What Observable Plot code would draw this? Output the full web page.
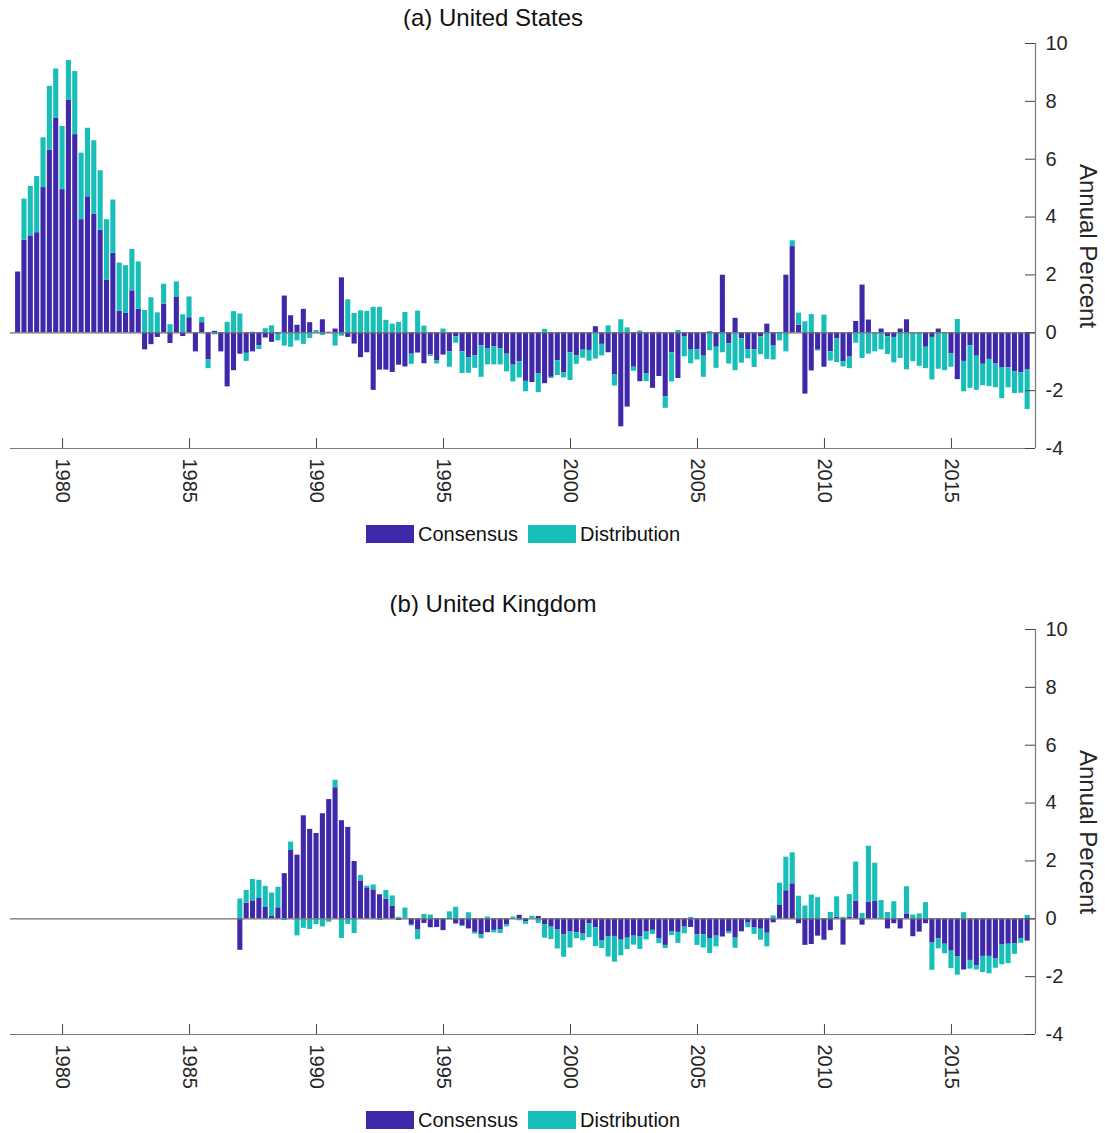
<!DOCTYPE html>
<html>
<head>
<meta charset="utf-8">
<script src="https://cdn.jsdelivr.net/npm/d3@7"></script>
<script src="https://cdn.jsdelivr.net/npm/@observablehq/plot@0.6"></script>
<style>
  body { margin: 0; background: #fff; font-family: "Liberation Sans", Arial, Helvetica, sans-serif; }
  #root { position: relative; width: 1105px; height: 1133px; overflow: hidden; }
  .title { position: absolute; left: 0; width: 986px; text-align: center; font-size: 24px; line-height: 28px; color: #111; }
  .panel { position: absolute; left: 0; }
  .legend { position: absolute; left: 366px; height: 20px; display: flex; align-items: center; font-size: 20px; color: #111; }
  .legend .sw { width: 48px; height: 18px; display: inline-block; margin-right: 4px; }
  .legend .item { display: flex; align-items: center; margin-right: 10px; }
</style>
</head>
<body>
<div id="root"></div>
<script>
// ---- Data (quarterly) ----
const seriesNames = ["Consensus", "Distribution"];
const seriesColors = ["#3f28a9", "#17bfb8"];
const panelTitles = ["(a) United States", "(b) United Kingdom"];
const yLabel = "Annual Percent";
const xTicks = [1980, 1985, 1990, 1995, 2000, 2005, 2010, 2015];
const yTicks = [-4, -2, 0, 2, 4, 6, 8, 10];
const firstQuarterEnd = 1978.25;   // position of the first quarterly bar
const ukStartIndex = 35;          // UK series begins 35 quarters later

const usConsensus = [
  2.1, 3.2, 3.35, 3.46, 5.02, 6.32, 7.41, 4.95, 8.03, 6.85,
  3.91, 4.70, 4.10, 3.54, 1.81, 2.75, 0.75, 0.67, 1.45, 0.81,
  -0.59, -0.41, -0.16, 0.99, -0.37, 1.22, -0.13, 0.52, -0.66, 0.35,
  -0.93, 0.05, -0.66, -1.87, -1.31, -0.74, -0.71, -0.66, -0.45, -0.18,
  -0.33, -0.05, 1.27, 0.59, 0.26, 0.81, 0.35, 0.03, 0.45, 0.02,
  0.13, 1.90, -0.16, -0.39, -0.86, -0.69, -1.99, -1.29, -1.29, -1.37,
  -1.12, -1.18, -0.74, -0.70, -1.07, -0.76, -0.96, -0.77, -0.66, -0.14,
  -0.66, -0.86, -0.79, -0.45, -0.56, -0.48, -0.56, -0.74, -1.12, -1.0,
  -1.68, -1.72, -1.42, -1.76, -1.54, -0.97, -1.39, -0.69, -0.79, -0.60,
  -0.61, 0.21, -0.40, -0.69, -1.46, -3.25, -2.57, -1.19, -1.69, -1.41,
  -1.92, -1.51, -2.21, -0.69, -1.58, -0.13, -0.60, -0.59, -0.81, 0.03,
  -0.50, 1.99, -0.38, 0.50, -0.21, -0.59, -0.59, -0.14, 0.30, -0.46,
  0, 1.99, 2.98, 0.26, -2.12, -1.32, -0.60, -1.19, -0.66, -0.21,
  -1.0, -0.84, 0.39, 1.65, 0.44, 0, 0.13, -0.14, -0.16, 0.13,
  0.45, 0, 0, -0.50, -0.16, 0.13, 0, -0.73, -1.62, -0.99,
  -0.45, -0.81, -1.09, -0.92, -1.08, -1.22, -1.21, -1.34, -1.38, -1.29
];
const usDistribution = [
  0, 1.42, 1.71, 1.94, 1.72, 2.2, 1.71, 2.18, 1.38, 2.18,
  2.3, 2.37, 2.54, 2.06, 2.1, 1.84, 1.66, 1.65, 1.43, 1.64,
  0.77, 1.21, 0.69, 0.69, 0.28, 0.54, 0.62, 0.72, 0, 0.18,
  -0.31, -0.07, 0, 0.36, 0.73, 0.65, -0.28, 0.02, -0.13, 0.14,
  0.24, -0.23, -0.46, -0.5, -0.28, -0.40, -0.2, 0.05, -0.09, 0,
  -0.46, -0.12, 1.14, 0.67, 0.76, 0.74, 0.88, 0.88, 0.43, 0.30,
  0.36, 0.70, -0.35, 0.75, 0.23, -0.06, -0.12, 0.13, -0.53, -0.22,
  -0.75, -0.54, -0.44, -1.09, -0.55, -0.63, -0.55, -0.61, -0.58, -0.56,
  -0.36, 0, -0.65, 0.12, -0.04, -0.51, -0.17, -0.96, -0.30, -0.28,
  -0.37, -0.91, -0.40, 0.24, -0.38, 0.45, 0.17, -0.14, 0.06, -0.28,
  0, 0.02, -0.40, -1.01, 0.08, -0.70, -0.47, -0.35, -0.73, -0.62,
  -0.73, -0.69, -0.70, -1.31, -0.84, -0.31, -0.61, -0.62, -0.92, -0.48,
  -0.28, -0.66, 0.2, 0.42, 0.38, 0.63, -0.03, 0.61, -0.32, -0.82,
  -0.18, -0.40, -0.36, -0.89, -0.74, -0.66, -0.59, -0.61, -0.88, -0.89,
  -1.28, -1.0, -1.16, -0.74, -1.47, -1.26, -1.31, -0.46, 0.46, -1.05,
  -1.47, -1.18, -0.74, -0.94, -0.82, -1.06, -0.69, -0.76, -0.71, -1.36
];
const ukConsensus = [
  -1.09, 0.54, 0.62, 0.70, 0.39, 0.08, 0.38, 1.56, 2.36, 2.20,
  3.56, 3.09, 2.95, 3.63, 4.12, 4.53, 3.39, 3.16, 1.98, 1.31,
  1.07, 1.0, 0.83, 0.68, 0.44, -0.06, 0.02, -0.22, -0.39, -0.16,
  -0.31, -0.30, -0.41, -0.03, -0.18, -0.25, -0.35, -0.47, -0.56, -0.48,
  -0.40, -0.37, -0.21, 0, 0.12, -0.10, 0, 0.08, -0.20, -0.29,
  -0.39, -0.56, -0.46, -0.48, -0.53, -0.18, -0.31, -0.77, -0.63, -0.61,
  -0.74, -0.67, -0.60, -0.63, -0.46, -0.40, -0.70, -0.92, -0.46, -0.47,
  -0.29, -0.30, -0.55, -0.55, -0.68, -0.60, -0.63, -0.46, -0.67, -0.45,
  -0.15, -0.32, -0.36, -0.50, -0.14, 0.46, 0.97, 1.21, -0.17, -0.92,
  -0.89, -0.60, -0.74, -0.41, 0.06, -0.91, 0.06, 0.61, -0.22, 0.58,
  0.60, 0, -0.35, -0.17, -0.35, 0.17, -0.62, -0.46, -0.17, -0.84,
  -0.69, -0.88, -1.12, -1.32, -1.77, -1.44, -1.62, -1.30, -1.30, -1.39,
  -0.91, -0.88, -0.86, -0.68, -0.77
];
const ukDistribution = [
  0.68, 0.44, 0.74, 0.63, 0.73, 0.81, 0.71, -0.06, 0.29, -0.59,
  -0.33, -0.37, -0.20, -0.28, -0.12, 0.26, -0.68, -0.20, -0.51, 0.19,
  0.06, 0.17, -0.06, 0.30, 0.35, 0.05, 0.35, -0.03, -0.33, 0.15,
  0.13, 0.01, 0, 0.24, 0.40, -0.02, 0.21, -0.06, -0.13, 0.06,
  -0.09, -0.14, -0.07, 0.06, -0.07, -0.09, 0.09, -0.16, -0.47, -0.43,
  -0.65, -0.77, -0.55, -0.21, -0.23, -0.47, -0.65, -0.26, -0.69, -0.89,
  -0.54, -0.39, -0.31, -0.43, -0.27, -0.14, -0.16, -0.11, -0.12, -0.38,
  -0.23, 0.05, -0.37, -0.46, -0.52, -0.37, 0, -0.06, -0.35, 0,
  -0.16, -0.22, -0.38, -0.47, 0.10, 0.77, 1.16, 1.07, 0.78, 0.44,
  0.82, 0.73, -0.02, 0.22, 0.70, 0.05, 0.78, 1.35, 0.18, 1.93,
  1.32, 0.63, 0.22, 0.59, 0, 0.94, 0.13, 0.17, 0.56, -0.94,
  -0.35, -0.33, -0.60, -0.63, 0.21, -0.30, -0.15, -0.56, -0.60, -0.32,
  -0.68, -0.67, -0.37, -0.17, 0.12
];

// ---- Layout constants ----
const W = 1105, H = 485;
const M = {top: 13, bottom: 67, left: 10, right: 70};
const xDomain = [1977.95, 2018.31];
const yDomain = [-4, 10];
const font = '"Liberation Sans", Arial, Helvetica, sans-serif';
const axisColor = "#7a7a7a";
const textColor = "#262626";

function buildRows(cons, dist, startIdx) {
  const rows = [];
  [cons, dist].forEach((arr, s) => {
    arr.forEach((v, k) => {
      const t = firstQuarterEnd + (startIdx + k) * 0.25;
      rows.push({t, series: seriesNames[s], value: v});
    });
  });
  return rows;
}

function panel(rows) {
  return Plot.plot({
    width: W, height: H,
    marginTop: M.top, marginBottom: M.bottom, marginLeft: M.left, marginRight: M.right,
    style: {fontFamily: font, fontSize: "20px", color: textColor, background: "white", overflow: "visible"},
    x: {domain: xDomain},
    y: {domain: yDomain},
    color: {domain: seriesNames, range: seriesColors},
    marks: [
      Plot.rectY(rows, Plot.stackY({
        x1: d => d.t - 0.1, x2: d => d.t + 0.1, y: "value", fill: "series"
      })),
      Plot.ruleY([0], {stroke: "#6e6e6e", strokeWidth: 1.2}),
      Plot.ruleY([yDomain[0]], {stroke: axisColor, strokeWidth: 1}),
      Plot.ruleX([xDomain[1]], {stroke: axisColor, strokeWidth: 1.2}),
      Plot.tickY(yTicks, {y: d => d, insetLeft: W - M.left - M.right - 10, stroke: "#444"}),
      Plot.tickX(xTicks, {x: d => d, insetTop: H - M.top - M.bottom - 10, stroke: "#444"}),
      Plot.axisY({anchor: "right", ticks: yTicks, tickSize: 0, tickPadding: 10,
        tickFormat: d => String(d), label: null, fontSize: 20, fill: textColor}),
      Plot.axisX({anchor: "bottom", ticks: xTicks, tickSize: 0, tickPadding: 10, tickRotate: 90,
        tickFormat: d => String(d), label: null, fontSize: 20, fill: textColor}),
      Plot.text([yLabel], {text: d => d, frameAnchor: "right", textAnchor: "middle", lineAnchor: "middle",
        dx: 52, rotate: 90, fontSize: 24, fill: textColor})
    ]
  });
}

function legend(top) {
  const div = document.createElement("div");
  div.className = "legend";
  div.style.top = top + "px";
  seriesNames.forEach((name, i) => {
    const item = document.createElement("div");
    item.className = "item";
    const sw = document.createElement("span");
    sw.className = "sw";
    sw.style.background = seriesColors[i];
    const tx = document.createElement("span");
    tx.textContent = name;
    item.appendChild(sw); item.appendChild(tx);
    div.appendChild(item);
  });
  return div;
}

const root = document.getElementById("root");
const panels = [
  {rows: buildRows(usConsensus, usDistribution, 0), titleTop: 4, svgTop: 30, legendTop: 524},
  {rows: buildRows(ukConsensus, ukDistribution, ukStartIndex), titleTop: 590, svgTop: 616, legendTop: 1110}
];
panels.forEach((p, i) => {
  const t = document.createElement("div");
  t.className = "title";
  t.style.top = p.titleTop + "px";
  t.textContent = panelTitles[i];
  root.appendChild(t);
  const wrap = document.createElement("div");
  wrap.className = "panel";
  wrap.style.top = p.svgTop + "px";
  wrap.appendChild(panel(p.rows));
  root.appendChild(wrap);
  root.appendChild(legend(p.legendTop));
});
</script>
</body>
</html>
